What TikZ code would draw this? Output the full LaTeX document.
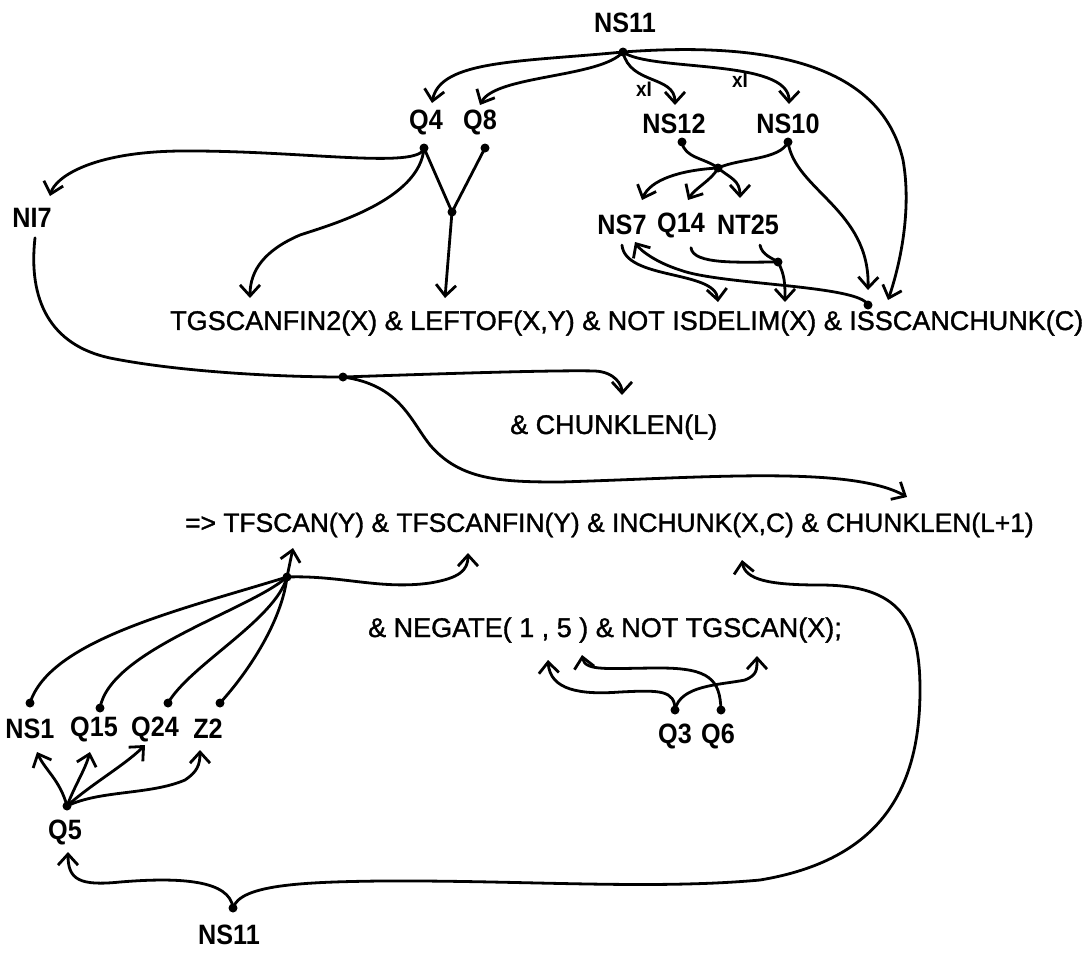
\documentclass[tikz,border=0pt]{standalone}
\usepackage{fontspec}
\setmainfont{Liberation Sans}
\newfontfamily\formfont[FakeBold=1.3]{Liberation Sans}
\newfontfamily\labfont[FakeStretch=0.9]{Liberation Sans}
\usetikzlibrary{arrows.meta}
\begin{document}
\begin{tikzpicture}[x=1pt,y=-1pt,
  lab/.style={inner sep=0pt,font=\labfont\bfseries\fontsize{28}{30}\selectfont},
  formula/.style={inner sep=0pt,anchor=west,font=\formfont\fontsize{27}{30}\selectfont},
  xlab/.style={inner sep=0pt,font=\labfont\bfseries\fontsize{21}{22}\selectfont},
  conn/.style={line width=2.8pt,line cap=round,-{Straight Barb[length=11pt,width=20pt,line width=2.8pt]}},
  plain/.style={line width=2.8pt,line cap=round},
  dotc/.style={fill=black}
]
\useasboundingbox (0,0) rectangle (1083,954);
% labels
\node[lab] (ns11t) at (625,23) {NS11};
\node[lab] (q4) at (426,122) {Q4};
\node[lab] (q8) at (480,122) {Q8};
\node[lab] (ns12) at (674,124) {NS12};
\node[lab] (ns10) at (788,124) {NS10};
\node[lab] (ni7) at (32,218) {NI7};
\node[lab] (ns7) at (622,225) {NS7};
\node[lab] (q14) at (681,225) {Q14};
\node[lab] (nt25) at (748,225) {NT25};
\node[formula] (f1) at (170,323) {TGSCANFIN2(X) \& LEFTOF(X,Y) \& NOT ISDELIM(X) \& ISSCANCHUNK(C)};
\node[formula] (f2) at (510,427) {\& CHUNKLEN(L)};
\node[formula,font=\formfont\fontsize{26.4}{30}\selectfont] (f3) at (185,525) {=> TFSCAN(Y) \& TFSCANFIN(Y) \& INCHUNK(X,C) \& CHUNKLEN(L+1)};
\node[formula] (f4) at (368,630) {\& NEGATE( 1 , 5 ) \& NOT TGSCAN(X);};
\node[lab] (ns1) at (30,729) {NS1};
\node[lab] (q15) at (94,729) {Q15};
\node[lab] (q24) at (155,729) {Q24};
\node[lab] (z2) at (208,729) {Z2};
\node[lab] (q5) at (65,832) {Q5};
\node[lab] (ns11b) at (229,935) {NS11};
\node[lab] (q3) at (675,736) {Q3};
\node[lab] (q6) at (718,736) {Q6};
\node[xlab] (xi1) at (644,89) {xI};
\node[xlab] (xi2) at (740,80) {xI};
% points
\coordinate (dTop) at (623,52);
\coordinate (dQ4) at (424,148);
\coordinate (dQ8) at (485,148);
\coordinate (jY) at (452,212);
\coordinate (dNS12) at (682,142);
\coordinate (dNS10) at (788,142);
\coordinate (jX) at (718,168);
\coordinate (jT) at (778,262);
\coordinate (dR) at (868,305);
\coordinate (jL) at (343,377);
\coordinate (jB) at (287,577);
\coordinate (dNS1) at (30,703);
\coordinate (dQ15) at (100,708);
\coordinate (dQ24) at (168,703);
\coordinate (dZ2) at (220,703);
\coordinate (dQ5) at (67,806);
\coordinate (dNSb) at (233,908);
\coordinate (dQ3) at (675,710);
\coordinate (dQ6) at (721,710);
\coordinate (tQ4) at (432,103);
\coordinate (tQ8) at (480,105);
\coordinate (tNS12) at (675,105);
\coordinate (tNS10) at (789,104);
\coordinate (tIss) at (888,300);
\coordinate (tNI7) at (50,196);
\coordinate (tTg) at (250,298);
\coordinate (tLeft) at (445,298);
\coordinate (tNS7a) at (642,200);
\coordinate (tQ14) at (688,200);
\coordinate (tNT25) at (740,198);
\coordinate (tDelR) at (868,290);
\coordinate (tDel) at (718,302);
\coordinate (tDel2) at (785,302);
\coordinate (tNS7b) at (635,242);
\coordinate (tChunk) at (622,395);
\coordinate (tChunk1) at (907,497);
\coordinate (tTfs) at (293,548);
\coordinate (tTfsf) at (468,553);
\coordinate (tNS1) at (37,752);
\coordinate (tQ15) at (90,752);
\coordinate (tQ24) at (145,745);
\coordinate (tZ2) at (200,750);
\coordinate (tQ5) at (68,852);
\coordinate (tInch) at (742,560);
\coordinate (t1) at (548,660);
\coordinate (t5) at (582,655);
\coordinate (tTgs) at (757,656);
% dots
\foreach \p in {dTop,dQ4,dQ8,jY,dNS12,dNS10,jX,jT,dR,jL,jB,dNS1,dQ15,dQ24,dZ2,dQ5,dNSb,dQ3,dQ6}
  \fill[dotc] (\p) circle (4.5);
% top connectors
\draw[conn] (dTop) .. controls (520,62) and (440,60) .. (tQ4);
\draw[conn] (dTop) .. controls (600,78) and (495,75) .. (tQ8);
\draw[conn] (dTop) .. controls (630,85) and (675,75) .. (tNS12);
\draw[conn] (dTop) .. controls (650,72) and (790,58) .. (tNS10);
\draw[conn] (dTop) .. controls (760,42) and (880,60) .. (903,160) .. controls (912,210) and (900,265) .. (tIss);
\draw[conn] (dQ4) .. controls (420,170) and (300,150) .. (180,151) .. controls (90,152) and (55,178) .. (tNI7);
\draw[conn] (dQ4) .. controls (420,200) and (330,225) .. (300,235) .. controls (265,250) and (250,270) .. (tTg);
\draw[plain] (dQ4) -- (jY);
\draw[plain] (dQ8) -- (jY);
\draw[conn] (jY) -- (tLeft);
\draw[plain] (dNS12) .. controls (684,158) and (705,158) .. (jX);
\draw[plain] (dNS10) .. controls (780,160) and (740,158) .. (jX);
\draw[conn] (jX) .. controls (680,170) and (650,180) .. (tNS7a);
\draw[conn] (jX) .. controls (712,180) and (695,188) .. (tQ14);
\draw[conn] (jX) .. controls (730,178) and (740,180) .. (tNT25);
\draw[conn] (dNS10) .. controls (795,190) and (870,210) .. (tDelR);
\draw[conn] (ns7.south) ++(0,10) .. controls (625,280) and (715,270) .. (tDel);
\draw[plain] (q14.south) ++(10,10) .. controls (693,265) and (740,262) .. (jT);
\draw[plain] (nt25.south) ++(12,10) .. controls (762,255) and (772,258) .. (jT);
\draw[conn] (jT) .. controls (785,275) and (785,285) .. (tDel2);
\draw[conn] (dR) .. controls (860,285) and (720,285) .. (680,270) .. controls (655,262) and (640,250) .. (tNS7b);
% middle
\draw[plain] (ni7.south) ++(3,10) .. controls (28,300) and (50,345) .. (110,358) .. controls (180,372) and (280,377) .. (jL);
\draw[conn] (jL) .. controls (460,373) and (560,370) .. (595,371) .. controls (615,372) and (622,385) .. (tChunk);
\draw[conn] (jL) .. controls (400,385) and (410,420) .. (430,445) .. controls (460,480) and (500,482) .. (560,482) .. controls (700,478) and (850,465) .. (tChunk1);
% bottom
\draw[conn] (jB) -- (tTfs);
\draw[conn] (jB) .. controls (340,575) and (380,590) .. (430,583) .. controls (460,578) and (468,570) .. (tTfsf);
\draw[plain] (dNS1) .. controls (50,640) and (180,610) .. (jB);
\draw[plain] (dQ15) .. controls (110,650) and (250,610) .. (jB);
\draw[plain] (dQ24) .. controls (190,665) and (275,620) .. (jB);
\draw[plain] (dZ2) .. controls (250,670) and (282,620) .. (jB);
\draw[conn] (dQ5) .. controls (60,780) and (45,770) .. (tNS1);
\draw[conn] (dQ5) .. controls (75,785) and (85,770) .. (tQ15);
\draw[conn] (dQ5) .. controls (90,785) and (125,765) .. (tQ24);
\draw[conn] (dQ5) .. controls (100,790) and (150,795) .. (185,780) .. controls (197,772) and (200,765) .. (tZ2);
\draw[conn] (dNSb) .. controls (230,880) and (180,877) .. (120,882) .. controls (80,886) and (68,880) .. (tQ5);
\draw[conn] (dNSb) .. controls (240,885) and (300,882) .. (380,881) .. controls (520,880) and (650,890) .. (760,880) .. controls (880,860) and (920,790) .. (920,690) .. controls (920,620) and (900,585) .. (820,585) .. controls (770,585) and (745,580) .. (tInch);
\draw[conn] (dQ3) .. controls (675,690) and (660,690) .. (620,692) .. controls (580,695) and (550,690) .. (t1);
\draw[conn] (dQ3) .. controls (680,685) and (720,685) .. (745,680) .. controls (757,675) and (757,670) .. (tTgs);
\draw[conn] (dQ6) .. controls (720,680) and (710,668) .. (660,668) .. controls (610,668) and (585,672) .. (t5);
\end{tikzpicture}
\end{document}
